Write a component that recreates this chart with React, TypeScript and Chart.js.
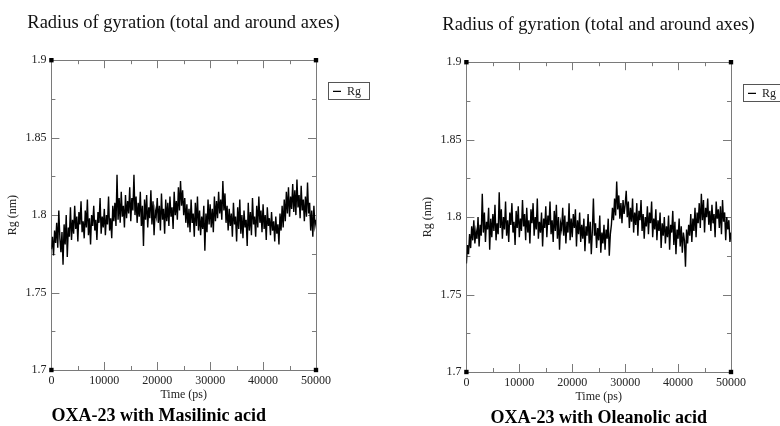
import React, { useEffect, useRef } from "react";
import { Chart, registerables } from "chart.js";

Chart.register(...registerables);

// ---------- data ----------
const TIME_STEP_PS = 200;
const X_MIN = 0;
const X_MAX = 50000;
const Y_MIN = 1.7;
const Y_MAX = 1.9;
const X_MAJOR_TICKS = [0, 10000, 20000, 30000, 40000, 50000];
const X_MINOR_TICKS = [5000, 15000, 25000, 35000, 45000];
const Y_MAJOR_TICKS = [1.7, 1.75, 1.8, 1.85, 1.9];
const Y_MINOR_TICKS = [1.725, 1.775, 1.825, 1.875];
const CHART_TITLE = "Radius of gyration (total and around axes)";
const X_TITLE = "Time (ps)";
const Y_TITLE = "Rg (nm)";
const SERIES_LABEL = "Rg";
const CAPTION_LEFT = "OXA-23 with Masilinic acid";
const CAPTION_RIGHT = "OXA-23 with Oleanolic acid";

const RG_MASILINIC = [
  1.778, 1.786, 1.774, 1.790, 1.782, 1.795, 1.779, 1.803, 1.785, 1.776,
  1.789, 1.768, 1.794, 1.781, 1.800, 1.773, 1.792, 1.786, 1.805, 1.784,
  1.797, 1.788, 1.806, 1.791, 1.799, 1.783, 1.802, 1.794, 1.809, 1.789,
  1.796, 1.785, 1.803, 1.792, 1.810, 1.787, 1.798, 1.781, 1.800, 1.793,
  1.806, 1.790, 1.797, 1.784, 1.802, 1.795, 1.811, 1.788, 1.799, 1.792,
  1.804, 1.787, 1.800, 1.794, 1.812, 1.790, 1.798, 1.785, 1.806, 1.796,
  1.808, 1.793, 1.826, 1.797, 1.811, 1.795, 1.815, 1.799, 1.806, 1.792,
  1.813, 1.798, 1.809, 1.801, 1.818, 1.796, 1.811, 1.803, 1.826, 1.800,
  1.812, 1.795, 1.808, 1.799, 1.815, 1.793, 1.806, 1.780, 1.810, 1.797,
  1.813, 1.792, 1.805, 1.798, 1.816, 1.794, 1.809, 1.787, 1.803, 1.799,
  1.811, 1.795, 1.806, 1.790, 1.814, 1.797, 1.804, 1.788, 1.810, 1.796,
  1.808, 1.793, 1.812, 1.799, 1.805, 1.791, 1.815, 1.800, 1.809, 1.797,
  1.818, 1.803, 1.822, 1.806, 1.816, 1.800, 1.811, 1.795, 1.807, 1.792,
  1.804, 1.789, 1.810, 1.795, 1.801, 1.786, 1.808, 1.793, 1.812, 1.790,
  1.803, 1.787, 1.799, 1.791, 1.806, 1.777, 1.801, 1.789, 1.810, 1.794,
  1.807, 1.792, 1.804, 1.789, 1.812, 1.796, 1.809, 1.798, 1.815, 1.801,
  1.810, 1.797, 1.822, 1.803, 1.814, 1.795, 1.806, 1.790, 1.804, 1.793,
  1.801, 1.786, 1.808, 1.794, 1.799, 1.783, 1.805, 1.791, 1.810, 1.788,
  1.800, 1.785, 1.803, 1.792, 1.797, 1.780, 1.808, 1.790, 1.802, 1.787,
  1.811, 1.794, 1.799, 1.786, 1.806, 1.792, 1.812, 1.795, 1.803, 1.789,
  1.807, 1.791, 1.800, 1.784, 1.805, 1.793, 1.798, 1.787, 1.802, 1.790,
  1.796, 1.783, 1.799, 1.788, 1.794, 1.781, 1.801, 1.790, 1.806, 1.792,
  1.810, 1.796, 1.815, 1.801, 1.818, 1.799, 1.812, 1.804, 1.820, 1.802,
  1.816, 1.800, 1.823, 1.805, 1.813, 1.798, 1.819, 1.803, 1.810, 1.796,
  1.812, 1.799, 1.821, 1.801, 1.808, 1.790, 1.803, 1.786, 1.806, 1.793,
  1.797,
];

const RG_OLEANOLIC = [
  1.770, 1.782, 1.776, 1.789, 1.780, 1.794, 1.785, 1.798, 1.783, 1.791,
  1.786, 1.800, 1.781, 1.795, 1.788, 1.815, 1.790, 1.803, 1.784, 1.797,
  1.792, 1.806, 1.779, 1.799, 1.787, 1.802, 1.791, 1.808, 1.785, 1.796,
  1.789, 1.816, 1.793, 1.805, 1.786, 1.800, 1.792, 1.810, 1.788, 1.798,
  1.784, 1.803, 1.795, 1.809, 1.790, 1.797, 1.782, 1.804, 1.793, 1.807,
  1.787, 1.799, 1.791, 1.811, 1.794, 1.802, 1.785, 1.806, 1.790, 1.798,
  1.783, 1.805, 1.796, 1.809, 1.788, 1.800, 1.792, 1.812, 1.786, 1.797,
  1.790, 1.803, 1.781, 1.799, 1.793, 1.807, 1.787, 1.801, 1.795, 1.810,
  1.789, 1.798, 1.784, 1.804, 1.791, 1.808, 1.786, 1.800, 1.779, 1.796,
  1.792, 1.806, 1.788, 1.801, 1.783, 1.797, 1.790, 1.809, 1.785, 1.799,
  1.787, 1.802, 1.793, 1.805, 1.781, 1.798, 1.789, 1.803, 1.784, 1.795,
  1.786, 1.799, 1.778, 1.794, 1.788, 1.802, 1.783, 1.797, 1.776, 1.791,
  1.812, 1.788, 1.796, 1.780, 1.793, 1.785, 1.801, 1.777, 1.790, 1.783,
  1.795, 1.779, 1.792, 1.786, 1.799, 1.775, 1.789, 1.795, 1.806, 1.798,
  1.812, 1.801, 1.823, 1.805, 1.814, 1.799, 1.809, 1.796, 1.811, 1.802,
  1.808, 1.817, 1.800, 1.810, 1.793, 1.806, 1.797, 1.812, 1.790, 1.803,
  1.795, 1.809, 1.788, 1.804, 1.798, 1.811, 1.791, 1.802, 1.786, 1.800,
  1.794, 1.807, 1.789, 1.803, 1.796, 1.810, 1.787, 1.799, 1.792, 1.805,
  1.785, 1.798, 1.791, 1.803, 1.780, 1.796, 1.788, 1.800, 1.783, 1.794,
  1.787, 1.801, 1.779, 1.795, 1.790, 1.804, 1.782, 1.797, 1.776, 1.792,
  1.786, 1.799, 1.781, 1.794, 1.777, 1.790, 1.785, 1.768, 1.792, 1.783,
  1.795, 1.788, 1.802, 1.784, 1.799, 1.791, 1.806, 1.787, 1.803, 1.796,
  1.809, 1.793, 1.815, 1.798, 1.811, 1.790, 1.806, 1.800, 1.812, 1.795,
  1.804, 1.791, 1.808, 1.796, 1.802, 1.787, 1.810, 1.799, 1.805, 1.793,
  1.807, 1.789, 1.811, 1.797, 1.803, 1.785, 1.800, 1.792, 1.798, 1.784,
  1.790,
];

// ---------- styling ----------
const SERIF = "'Liberation Serif', 'Times New Roman', serif";
const FRAME_COLOR = "#7a7a7a";
const MAJOR_TICK = 8;
const MINOR_TICK = 4;
const CANVAS_W = 391;
const CANVAS_H = 426;

const framePlugin = {
  id: "xmgraceFrame",
  beforeDatasetsDraw(chart: any) {
    const { ctx, chartArea } = chart;
    const xs = chart.scales.x;
    const ys = chart.scales.y;
    const { left, right, top, bottom } = chartArea;
    ctx.save();
    ctx.strokeStyle = FRAME_COLOR;
    ctx.lineWidth = 1;
    ctx.beginPath();
    ctx.rect(Math.round(left) + 0.5, Math.round(top) + 0.5, Math.round(right - left), Math.round(bottom - top));
    ctx.stroke();
    const drawX = (v: number, len: number) => {
      const px = Math.round(xs.getPixelForValue(v)) + 0.5;
      ctx.moveTo(px, bottom);
      ctx.lineTo(px, bottom - len);
      ctx.moveTo(px, top);
      ctx.lineTo(px, top + len);
    };
    const drawY = (v: number, len: number) => {
      const py = Math.round(ys.getPixelForValue(v)) + 0.5;
      ctx.moveTo(left, py);
      ctx.lineTo(left + len, py);
      ctx.moveTo(right, py);
      ctx.lineTo(right - len, py);
    };
    ctx.beginPath();
    X_MAJOR_TICKS.forEach((v) => drawX(v, MAJOR_TICK));
    X_MINOR_TICKS.forEach((v) => drawX(v, MINOR_TICK));
    Y_MAJOR_TICKS.forEach((v) => drawY(v, MAJOR_TICK));
    Y_MINOR_TICKS.forEach((v) => drawY(v, MINOR_TICK));
    ctx.stroke();
    ctx.restore();
  },
};

const legendBoxPlugin = {
  id: "legendBox",
  afterDraw(chart: any) {
    const legend = chart.legend;
    if (!legend || !legend.legendHitBoxes || !legend.legendHitBoxes.length) return;
    const hb = legend.legendHitBoxes[0];
    const { ctx } = chart;
    ctx.save();
    ctx.strokeStyle = "#555";
    ctx.lineWidth = 1;
    const x0 = Math.round(hb.left - 5) + 0.5;
    const y0 = Math.round(hb.top - 3) + 0.5;
    const x1 = Math.round(hb.left + hb.width + 8) + 0.5;
    const y1 = Math.round(hb.top + hb.height + 2) + 0.5;
    ctx.strokeRect(x0, y0, x1 - x0, y1 - y0);
    ctx.restore();
  },
};

function Panel(props: { values: number[]; caption: string; captionAlign: "start" | "center"; left: number; top: number }) {
  const ref = useRef<HTMLCanvasElement | null>(null);
  useEffect(() => {
    const canvas = ref.current;
    if (!canvas) return;
    const points = props.values.map((v, i) => ({ x: i * TIME_STEP_PS, y: v }));
    const corners = [
      { x: X_MIN, y: Y_MIN },
      { x: X_MIN, y: Y_MAX },
      { x: X_MAX, y: Y_MIN },
      { x: X_MAX, y: Y_MAX },
    ];
    const chart = new Chart(canvas, {
      type: "line",
      data: {
        datasets: [
          {
            label: SERIES_LABEL,
            data: points,
            borderColor: "#000",
            backgroundColor: "#000",
            borderWidth: 1.4,
            pointRadius: 0,
            tension: 0,
            fill: false,
          },
          {
            label: "corners",
            data: corners,
            showLine: false,
            pointStyle: "rect",
            pointRadius: 3.1,
            pointBackgroundColor: "#000",
            pointBorderColor: "#000",
            pointBorderWidth: 0,
            clip: false,
          } as any,
        ],
      },
      options: {
        responsive: false,
        animation: false,
        events: [],
        layout: { padding: { left: 8, right: 8, top: 0, bottom: 1 } },
        scales: {
          x: {
            type: "linear",
            min: X_MIN,
            max: X_MAX,
            grid: { display: false, drawTicks: false },
            border: { display: false },
            afterBuildTicks: (s: any) => {
              s.ticks = X_MAJOR_TICKS.map((v) => ({ value: v }));
            },
            ticks: {
              padding: 5,
              color: "#222",
              font: { family: SERIF, size: 12, lineHeight: 1 },
              maxRotation: 0,
              callback: (v: any) => String(v),
            },
            title: {
              display: true,
              text: X_TITLE,
              color: "#222",
              font: { family: SERIF, size: 12, lineHeight: 1 },
              padding: { top: -3, bottom: 0 },
            },
          },
          y: {
            type: "linear",
            min: Y_MIN,
            max: Y_MAX,
            grid: { display: false, drawTicks: false },
            border: { display: false },
            afterBuildTicks: (s: any) => {
              s.ticks = Y_MAJOR_TICKS.map((v) => ({ value: v }));
            },
            ticks: {
              padding: 5,
              color: "#222",
              font: { family: SERIF, size: 12 },
              callback: (v: any) => String(Number(Number(v).toFixed(3))),
            },
            title: {
              display: true,
              text: Y_TITLE,
              color: "#222",
              font: { family: SERIF, size: 12 },
              padding: { top: 10, bottom: 0 },
            },
          },
        },
        plugins: {
          title: {
            display: true,
            text: CHART_TITLE,
            color: "#111",
            font: { family: SERIF, size: 18.5, weight: "normal" },
            padding: { top: 12, bottom: 26 },
          },
          subtitle: {
            display: true,
            text: props.caption,
            position: "bottom",
            align: props.captionAlign,
            fullSize: false,
            color: "#000",
            font: { family: SERIF, size: 18, weight: "bold", lineHeight: 1 },
            padding: { top: 6, bottom: 0 },
          },
          legend: {
            display: true,
            position: "right",
            align: "start",
            fullSize: false,
            title: { display: true, text: "", font: { size: 1 }, padding: { top: 7, bottom: 0 } },
            labels: {
              filter: (item: any) => item.datasetIndex === 0,
              usePointStyle: true,
              pointStyle: "line",
              pointStyleWidth: 8,
              padding: 17,
              color: "#222",
              font: { family: SERIF, size: 12 },
            },
          },
          tooltip: { enabled: false },
        },
      },
      plugins: [framePlugin, legendBoxPlugin],
    } as any);
    return () => chart.destroy();
  }, []);
  return (
    <div style={{ position: "absolute", left: props.left, top: props.top, width: CANVAS_W, height: CANVAS_H }}>
      <canvas ref={ref} width={CANVAS_W} height={CANVAS_H} style={{ width: CANVAS_W, height: CANVAS_H, display: "block" }} />
    </div>
  );
}

export default function App() {
  return (
    <div
      style={{
        position: "fixed",
        left: 0,
        top: 0,
        width: 780,
        height: 426,
        overflow: "hidden",
        background: "#fff",
      }}
    >
      <Panel values={RG_MASILINIC} caption={CAPTION_LEFT} captionAlign="start" left={-12} top={0} />
      <Panel values={RG_OLEANOLIC} caption={CAPTION_RIGHT} captionAlign="center" left={403} top={2} />
    </div>
  );
}
